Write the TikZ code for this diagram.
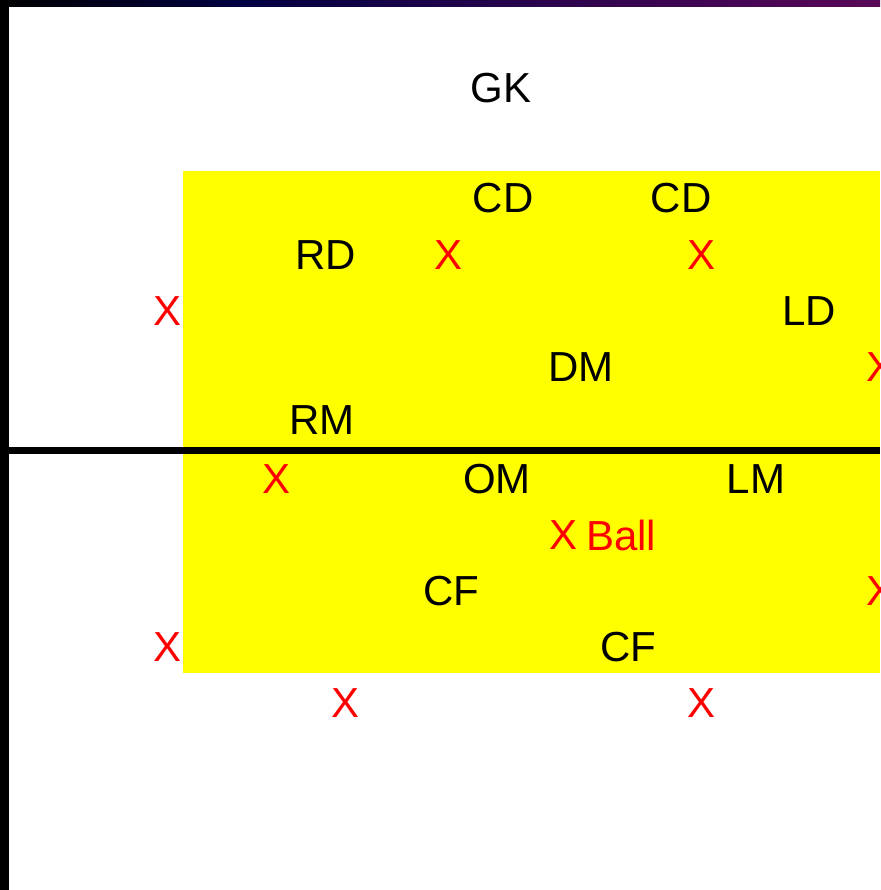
\documentclass[tikz,border=0pt]{standalone}
\usepackage{fontspec}
\setmainfont{Liberation Sans}
\definecolor{navyband}{RGB}{0,0,66}
\definecolor{plumband}{RGB}{90,8,88}
\definecolor{pitchyellow}{RGB}{255,255,0}
\definecolor{oppred}{RGB}{255,0,0}
\tikzset{
    player/.style={inner sep=0pt,font=\fontsize{42}{44}\selectfont},
    marker/.style={inner sep=0pt,text=oppred,font=\fontsize{42}{44}\selectfont}
}

\begin{document}
\begin{tikzpicture}[x=1pt,y=-1pt]
            \useasboundingbox (0,0) rectangle (880,890);
            \fill[white] (0,0) rectangle (880,890);
            \fill[pitchyellow] (183,171) rectangle (880,673);
            \shade[left color=black,right color=navyband] (0,0) rectangle (240,7);
            \shade[left color=navyband,right color=plumband] (240,0) rectangle (880,7);
            \fill[black] (0,0) rectangle (9,890);
            \fill[black] (9,447) rectangle (880,454);
            % players
            \node[player] (gk) at (501,88) {GK};
            \node[player] (cdr) at (503,198) {CD};
            \node[player] (cdl) at (681,198) {CD};
            \node[player] (rd) at (326,255) {RD};
            \node[player] (ld) at (809,311) {LD};
            \node[player] (dm) at (581,367) {DM};
            \node[player] (rm) at (322,420) {RM};
            \node[player] (om) at (497,479) {OM};
            \node[player] (lm) at (756,479) {LM};
            \node[player] (cfr) at (451,591) {CF};
            \node[player] (cfl) at (628,647) {CF};
            % opponents
            \foreach \name/\x/\y in {x1/448/255,x2/701/255,x3/168/311,x4/880/367,x5/277/479,
                x6/880/591,x7/168/647,x8/346/703,x9/701/703}{
                \node[marker] (\name) at (\x,\y) {X};
            }
            \node[marker] (ballx) at (563,535) {X};
            \node[marker,anchor=west] (ball) at (586,535) {Ball};
        \end{tikzpicture}
\end{document}
